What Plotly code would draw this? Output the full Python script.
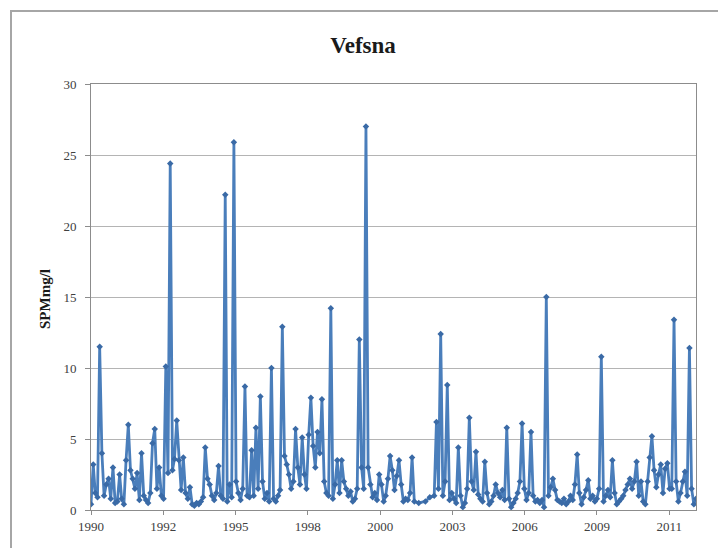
import plotly.graph_objects as go
from datetime import date, timedelta

# ---- data: monthly SPM (mg/l) samples, Vefsna ----
spm_1990 = [0.4, 3.2, 1.2, 0.9, 11.5, 4.0, 1.0, 1.8, 2.2, 0.8, 3.0, 0.5]
spm_1991 = [0.6, 2.5, 0.8, 0.4, 3.5, 6.0, 2.8, 2.2, 1.5, 2.6, 0.7, 4.0]
spm_1992 = [1.0, 0.7, 0.5, 1.2, 4.7, 5.7, 1.5, 3.0, 1.0, 0.8, 10.1, 2.6]
spm_1993 = [24.4, 2.8, 3.6, 6.3, 3.5, 1.4, 3.7, 1.2, 0.8, 1.6, 0.4, 0.3]
spm_1994 = [0.5, 0.4, 0.6, 0.9, 4.4, 2.2, 1.8, 1.0, 0.7, 1.2, 3.1, 1.0]
spm_1995 = [0.8, 22.2, 0.6, 1.8, 0.9, 25.9, 2.0, 1.2, 0.7, 1.5, 8.7, 1.0]
spm_1996 = [0.9, 4.2, 1.0, 5.8, 1.5, 8.0, 2.0, 0.8, 1.2, 0.6, 10.0, 0.8]
spm_1997 = [0.6, 1.0, 1.4, 12.9, 3.8, 3.2, 2.5, 1.5, 2.0, 5.7, 3.0, 1.8]
spm_1998 = [5.1, 2.5, 1.5, 5.3, 7.9, 4.5, 3.0, 5.5, 4.0, 7.8, 2.0, 1.2]
spm_1999 = [1.0, 14.2, 0.8, 1.8, 3.5, 1.2, 3.5, 2.0, 1.5, 1.0, 1.3, 0.6]
spm_2000 = [0.8, 1.5, 12.0, 3.0, 1.5, 27.0, 3.0, 1.8, 0.9, 1.2, 0.7, 2.5]
spm_2001 = [1.8, 0.6, 1.0, 2.2, 3.8, 2.8, 1.4, 2.4, 3.5, 1.8, 0.6, 0.8]
spm_2002 = [0.7, 1.2, 3.7, 0.6, None, 0.5, None, None, 0.6, None, 0.9, None]
spm_2003 = [1.0, 6.2, 1.5, 12.4, 1.0, 2.0, 8.8, 0.7, 1.2, 0.8, 0.5, 4.4]
spm_2004 = [1.0, 0.2, 0.5, 1.5, 6.5, 2.0, 1.4, 4.1, 1.1, 0.8, 0.6, 3.4]
spm_2005 = [1.2, 0.4, 0.6, 1.0, 1.8, 1.2, 0.9, 1.4, 0.7, 5.8, 0.8, 0.2]
spm_2006 = [0.5, 0.8, 1.2, 2.0, 6.1, 1.5, 0.7, 1.2, 5.5, 1.0, 0.6, 0.7]
spm_2007 = [0.5, 0.7, 0.2, 15.0, 1.0, 1.6, 2.2, 1.4, 0.7, 0.6, 0.5, 0.8]
spm_2008 = [0.4, 0.6, 1.0, 0.7, 1.8, 3.9, 1.2, 0.4, 0.9, 1.4, 2.1, 0.8]
spm_2009 = [1.0, 0.6, 0.8, 1.5, 10.8, 0.6, 1.0, 1.4, 0.9, 3.5, 1.2, 0.4]
spm_2010 = [0.6, 0.8, 1.0, 1.4, 1.8, 2.2, 1.5, 2.0, 3.4, 1.0, 2.0, 0.6]
spm_2011 = [0.4, 2.0, 3.7, 5.2, 2.8, 1.6, 2.5, 3.2, 1.2, 2.9, 3.3, 1.5]
spm_2012 = [1.5, 13.4, 2.0, 0.6, 1.2, 2.0, 2.7, 1.0, 11.4, 1.5, 0.4, 0.8]

years = list(range(1990, 2013))
yearly = [spm_1990, spm_1991, spm_1992, spm_1993, spm_1994, spm_1995,
          spm_1996, spm_1997, spm_1998, spm_1999, spm_2000, spm_2001,
          spm_2002, spm_2003, spm_2004, spm_2005, spm_2006, spm_2007,
          spm_2008, spm_2009, spm_2010, spm_2011, spm_2012]

dates, values = [], []
for y, vals in zip(years, yearly):
    for m, v in enumerate(vals, start=1):
        if v is not None:
            dates.append(date(y, m, 15))
            values.append(v)

# Excel-style date axis: ticks every 1000 days from the first sample
tick_step_days = 1000
first, last = dates[0], dates[-1]
tickvals = []
t = first
while t <= last:
    tickvals.append(t)
    t = t + timedelta(days=tick_step_days)

title_text = "Vefsna"
y_title = "SPMmg/l"
y_ticks = [0, 5, 10, 15, 20, 25, 30]

# page body has an 8px margin; lay out in screen pixels and shift
OFF = 8
W, H = 718, 540
L, T = 91 - OFF, 84 - OFF
R = W - (696 - OFF)
B = H - (510 - OFF)
pw, ph = W - L - R, H - T - B

def px_x(p):
    return (p - OFF - L) / pw

def px_y(p):
    return (H - B - (p - OFF)) / ph

serif = "Liberation Serif, Times New Roman, serif"

fig = go.Figure()
fig.add_trace(go.Scatter(
    x=dates, y=values, mode="lines+markers",
    line=dict(color="#4a7ebb", width=2.8),
    marker=dict(symbol="diamond", size=5, color="#3a6aa6"),
    connectgaps=True, showlegend=False,
))

fig.update_layout(
    width=W, height=H,
    margin=dict(l=L, r=R, t=T, b=B),
    paper_bgcolor="white", plot_bgcolor="white",
    font=dict(family=serif, color="#404040", size=13),
    title=dict(text="<b>" + title_text + "</b>", xref="container", x=(363 - OFF) / W,
               xanchor="center", yref="container", y=1 - (45 - OFF) / H, yanchor="middle",
               font=dict(family=serif, size=23, color="#1a1a1a")),
    xaxis=dict(
        range=[first, last], tickvals=tickvals, tickformat="%Y",
        showgrid=False, showline=True, linecolor="#8c8c8c", linewidth=1,
        mirror=True, ticks="outside", ticklen=4, tickcolor="#8c8c8c",
        tickfont=dict(family=serif, size=13, color="#404040"), zeroline=False,
    ),
    yaxis=dict(
        range=[0, 30], tickvals=y_ticks, showgrid=True, gridcolor="#b4b4b4",
        gridwidth=1, showline=True, linecolor="#8c8c8c", linewidth=1,
        mirror=True, ticks="outside", ticklen=5, tickcolor="#8c8c8c",
        tickfont=dict(family=serif, size=13, color="#404040"), zeroline=False,
        ticklabelstandoff=6,
    ),
    annotations=[dict(
        text="<b>" + y_title + "</b>", textangle=-90, xref="paper", yref="paper",
        x=px_x(45), y=px_y(299), xanchor="center", yanchor="middle",
        showarrow=False, font=dict(family=serif, size=15, color="#1a1a1a"),
    )],
    shapes=[dict(
        type="rect", xref="paper", yref="paper", layer="below",
        x0=px_x(11), x1=px_x(760), y0=px_y(570), y1=px_y(11),
        line=dict(color="#a6a6a6", width=2), fillcolor="rgba(0,0,0,0)",
    )],
)

fig.write_html("out.html")
